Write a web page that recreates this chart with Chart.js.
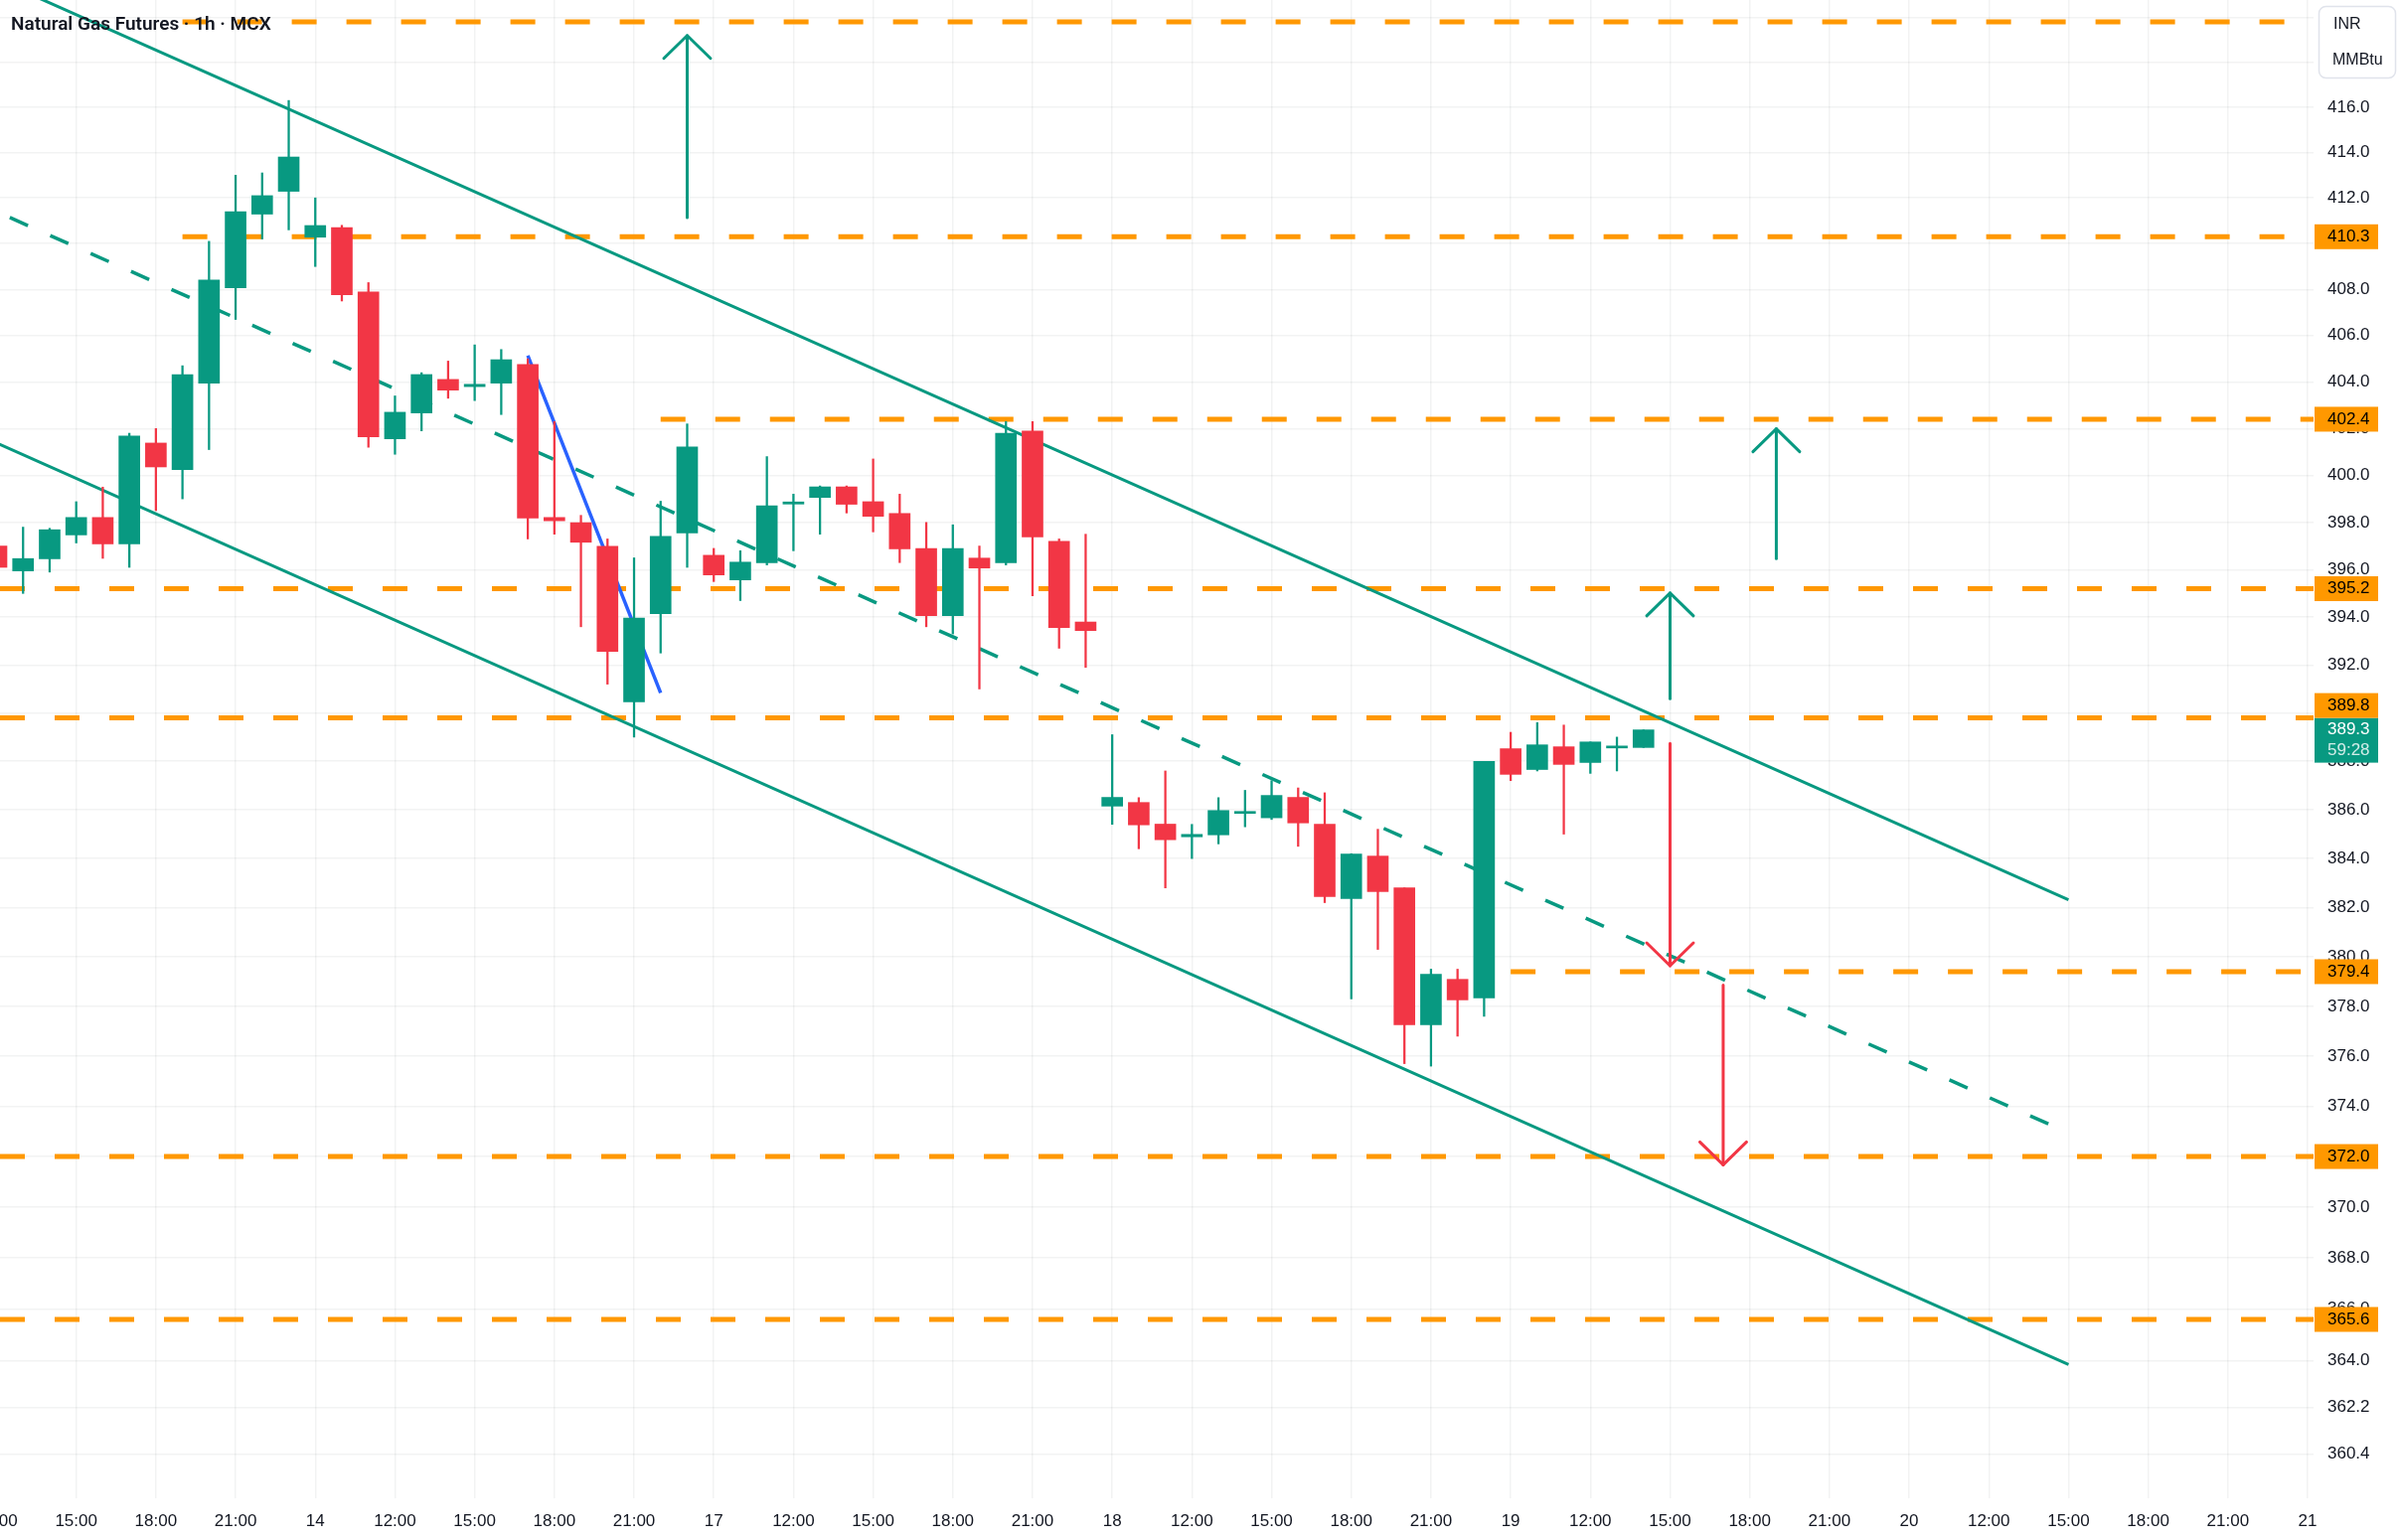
<!DOCTYPE html>
<html>
<head>
<meta charset="utf-8">
<title>Natural Gas Futures 1h</title>
<script src="https://cdn.jsdelivr.net/npm/chart.js@4.4.1/dist/chart.umd.min.js"></script>
<style>
  html, body { margin: 0; padding: 0; background: #ffffff; overflow: hidden; }
  #chart { display: block; }
</style>
</head>
<body>
<canvas id="chart" width="2416" height="1550"></canvas>
<script>
const TITLE = "Natural Gas Futures · 1h · MCX";

// hourly candles, bar 0 = 12:00 on the 13th
const OPEN = [
  397.0, 395.95, 396.46, 397.47, 398.21, 397.09, 401.38, 400.25, 403.95, 408.07,
  411.29, 412.29, 410.28, 410.7, 407.89, 401.56, 402.67, 404.11, 403.8, 403.95,
  404.75, 398.21, 397.99, 396.99, 390.46, 394.15, 397.55, 396.61, 395.57, 396.29,
  398.78, 399.06, 399.51, 398.88, 398.38, 396.9, 394.07, 396.49, 396.29, 401.89,
  397.2, 393.8, 386.15, 386.3, 385.41, 384.89, 384.97, 385.85, 385.67, 386.51,
  385.41, 382.37, 384.1, 382.8, 377.26, 379.09, 378.34, 388.52, 387.66, 388.6,
  387.95, 388.55, 388.57,
];
const HIGH = [
  397.3, 397.8, 397.75, 398.88, 399.5, 401.8, 402.0, 404.7, 410.1, 413.0,
  413.1, 416.3, 412.0, 410.8, 408.3, 403.4, 404.4, 404.9, 405.6, 405.4,
  405.0, 402.3, 398.3, 397.3, 396.5, 398.9, 402.2, 396.9, 396.8, 400.8,
  399.2, 399.55, 399.55, 400.7, 399.2, 398.0, 397.9, 397.0, 402.3, 402.3,
  397.3, 397.5, 389.1, 386.5, 387.6, 385.4, 386.5, 386.8, 387.2, 386.9,
  386.7, 384.2, 385.2, 382.8, 379.5, 379.5, 388.0, 389.2, 389.6, 389.5,
  388.8, 389.0, 389.3,
];
const LOW = [
  395.8, 395.0, 395.9, 397.13, 396.48, 396.1, 398.5, 399.0, 401.1, 406.7,
  410.2, 410.6, 409.0, 407.5, 401.2, 400.9, 401.9, 403.3, 403.2, 402.6,
  397.3, 397.5, 393.6, 391.2, 389.0, 392.5, 396.1, 395.5, 394.7, 396.2,
  396.8, 397.5, 398.4, 397.6, 396.3, 393.6, 393.3, 391.0, 396.2, 394.9,
  392.7, 391.9, 385.4, 384.4, 382.8, 384.0, 384.6, 385.3, 385.6, 384.5,
  382.2, 378.3, 380.3, 375.7, 375.6, 376.8, 377.6, 387.2, 387.6, 385.0,
  387.5, 387.6, 388.57,
];
const CLOSE = [
  396.1, 396.47, 397.69, 398.21, 397.09, 401.68, 400.36, 404.32, 408.41, 411.4,
  412.1, 413.8, 410.79, 407.77, 401.65, 402.7, 404.32, 403.65, 403.9, 404.96,
  398.18, 398.07, 397.16, 392.57, 393.97, 397.41, 401.21, 395.78, 396.32, 398.71,
  398.87, 399.51, 398.77, 398.26, 396.88, 394.07, 396.9, 396.07, 401.8, 397.38,
  393.57, 393.44, 386.51, 385.38, 384.77, 384.99, 385.97, 385.9, 386.59, 385.46,
  382.45, 384.18, 382.65, 377.26, 379.3, 378.26, 388.0, 387.46, 388.68, 387.87,
  388.8, 388.62, 389.3,
];
const LAST_PRICE = 389.3;
const COUNTDOWN = "59:28";

// time axis: one tick every 3 bars
const TICK_BARS = [
  0, 3, 6, 9, 12, 15, 18, 21, 24, 27, 30, 33, 36, 39, 42,
  45, 48, 51, 54, 57, 60, 63, 66, 69, 72, 75, 78, 81, 84, 87,
];
const TIME_LABELS = [
  "12:00", "15:00", "18:00", "21:00", "14", "12:00", "15:00", "18:00", "21:00", "17",
  "12:00", "15:00", "18:00", "21:00", "18", "12:00", "15:00", "18:00", "21:00", "19",
  "12:00", "15:00", "18:00", "21:00", "20", "12:00", "15:00", "18:00", "21:00", "21",
];
const PRICE_TICKS = [
  420, 418, 416, 414, 412, 410, 408, 406, 404, 402, 400, 398, 396, 394, 392, 390,
  388, 386, 384, 382, 380, 378, 376, 374, 372, 370, 368, 366, 364, 362.2, 360.4,
];
const X_MIN = 0.131;
const X_MAX = 87.224;
const Y_MIN = 358.7;
const Y_MAX = 420.78;

// horizontal levels (start bar, null = from the left edge)
const LEVELS = [419.8, 410.3, 402.4, 395.2, 389.8, 379.4, 372.0, 365.6];
const LEVEL_START = [7, 7, 25, null, null, 57, null, null];
const LEVEL_TAGGED = [false, true, true, true, true, true, true, true];

// descending channel
const CHANNEL_X = [0, 78];
const CHANNEL_UPPER = [421.71, 382.32];
const CHANNEL_LOWER = [401.38, 363.85];
const MIDLINE_X = [0.5, 78];
const MIDLINE = [411.14, 372.94];

const BLUE_X = [20, 25];
const BLUE_Y = [405.14, 390.84];

// arrows: bar, from price, to price
const ARROW_X = [26, 67, 63, 63, 65];
const ARROW_FROM = [411.14, 396.47, 390.59, 388.74, 378.86];
const ARROW_TO = [419.19, 401.99, 395.02, 379.64, 371.67];

const UP = "#089981";
const DOWN = "#F23645";
const ORANGE = "#FF9800";
const BLUE = "#2962FF";
const TEXT = "#131722";
const GRID = "rgba(42, 46, 57, 0.06)";
const FONT = "Liberation Sans";

const candleColors = OPEN.map((o, i) => (CLOSE[i] >= o ? UP : DOWN));

function levelDataset(level, k) {
  const start = LEVEL_START[k] === null ? X_MIN : LEVEL_START[k];
  return {
    type: "line",
    data: [[start, level], [X_MAX + 1, level]],
    borderColor: ORANGE,
    borderWidth: 5,
    borderDash: [25, 30],
    pointRadius: 0,
    order: 5,
  };
}

function arrowDataset(k) {
  return {
    type: "line",
    data: [[ARROW_X[k], ARROW_FROM[k]], [ARROW_X[k], ARROW_TO[k]]],
    borderColor: ARROW_TO[k] > ARROW_FROM[k] ? UP : DOWN,
    borderWidth: 3,
    borderCapStyle: "round",
    pointRadius: 0,
    order: 3,
  };
}

function lineDataset(xs, ys, color, width, dash) {
  return {
    type: "line",
    data: xs.map((x, i) => [x, ys[i]]),
    borderColor: color,
    borderWidth: width,
    borderDash: dash || [],
    pointRadius: 0,
    order: 4,
  };
}

const HEAD_HALF = 23.5;
const HEAD_LEN = 23;

const arrowHeads = {
  id: "arrowHeads",
  afterDatasetsDraw(chart) {
    const { ctx, scales: { x, y } } = chart;
    ctx.save();
    ctx.lineWidth = 3;
    ctx.lineCap = "round";
    ctx.lineJoin = "round";
    ARROW_X.forEach((bar, k) => {
      const px = x.getPixelForValue(bar);
      const tip = y.getPixelForValue(ARROW_TO[k]);
      const up = ARROW_TO[k] > ARROW_FROM[k];
      const wingY = tip + (up ? HEAD_LEN : -HEAD_LEN);
      ctx.strokeStyle = up ? UP : DOWN;
      ctx.beginPath();
      ctx.moveTo(px - HEAD_HALF, wingY);
      ctx.lineTo(px, tip);
      ctx.lineTo(px + HEAD_HALF, wingY);
      ctx.stroke();
    });
    ctx.restore();
  },
};

const decorations = {
  id: "decorations",
  afterDraw(chart) {
    const { ctx, chartArea, scales: { y } } = chart;
    const boxLeft = chartArea.right + 1;
    const boxWidth = 64;
    const textX = chartArea.right + 14;
    ctx.save();

    // title
    ctx.font = `600 19px Roboto`;
    ctx.fillStyle = TEXT;
    ctx.textBaseline = "middle";
    ctx.textAlign = "left";
    ctx.fillText(TITLE, 11, 25);

    // unit box
    ctx.fillStyle = "#ffffff";
    ctx.strokeStyle = "#e0e3eb";
    ctx.lineWidth = 1.5;
    ctx.beginPath();
    ctx.roundRect(chartArea.right + 5.5, 6.5, 77, 72, 7);
    ctx.fill();
    ctx.stroke();
    ctx.fillStyle = TEXT;
    ctx.font = `16px ${FONT}`;
    ctx.fillText("INR", chartArea.right + 20, 25);
    ctx.fillText("MMBtu", chartArea.right + 19, 61);

    // current price tag
    const lastY = y.getPixelForValue(LAST_PRICE);
    const lastTop = lastY - 12;
    const lastBottom = lastTop + 45;
    ctx.fillStyle = UP;
    ctx.fillRect(boxLeft, lastTop, boxWidth, 45);
    ctx.font = `17px ${FONT}`;
    ctx.fillStyle = "#ffffff";
    ctx.fillText(LAST_PRICE.toFixed(1), textX, lastY);
    ctx.fillStyle = "rgba(255, 255, 255, 0.82)";
    ctx.fillText(COUNTDOWN, textX, lastY + 21);

    // level tags
    LEVELS.forEach((level, k) => {
      if (!LEVEL_TAGGED[k]) return;
      let cy = y.getPixelForValue(level);
      if (cy + 12.5 > lastTop && cy - 12.5 < lastBottom) {
        cy = lastTop - 12.5;
      }
      ctx.fillStyle = ORANGE;
      ctx.fillRect(boxLeft, cy - 12.5, boxWidth, 25);
      ctx.fillStyle = "#000000";
      ctx.fillText(level.toFixed(1), textX, cy);
    });
    ctx.restore();
  },
};

const datasets = [
  {
    type: "bar",
    data: OPEN.map((o, i) => ({ x: i, y: [o, CLOSE[i]] })),
    backgroundColor: candleColors,
    barThickness: 21,
    minBarLength: 2,
    grouped: false,
    order: 0,
  },
  {
    type: "bar",
    data: LOW.map((l, i) => ({ x: i, y: [l, HIGH[i]] })),
    backgroundColor: candleColors,
    barThickness: 1.6,
    grouped: false,
    order: 1,
  },
  lineDataset(BLUE_X, BLUE_Y, BLUE, 3.5),
  lineDataset(CHANNEL_X, CHANNEL_UPPER, UP, 3),
  lineDataset(CHANNEL_X, CHANNEL_LOWER, UP, 3),
  lineDataset(MIDLINE_X, MIDLINE, UP, 3.5, [20, 24.5]),
  ...ARROW_X.map((_, k) => arrowDataset(k)),
  ...LEVELS.map(levelDataset),
];

new Chart(document.getElementById("chart"), {
  type: "bar",
  data: { datasets },
  options: {
    responsive: false,
    devicePixelRatio: 1,
    animation: false,
    events: [],
    layout: { padding: 0, autoPadding: false },
    plugins: {
      legend: { display: false },
      tooltip: { enabled: false },
    },
    scales: {
      x: {
        type: "linear",
        min: X_MIN,
        max: X_MAX,
        bounds: "data",
        offset: false,
        afterBuildTicks: (scale) => {
          scale.ticks = TICK_BARS.map((value) => ({ value }));
        },
        afterFit: (scale) => {
          scale.height = 42;
          scale.paddingLeft = 0;
          scale.paddingRight = 0;
        },
        ticks: {
          autoSkip: false,
          maxRotation: 0,
          padding: 13,
          color: TEXT,
          font: { family: FONT, size: 17 },
          callback: (value, index) => TIME_LABELS[index],
        },
        grid: { color: GRID, lineWidth: 1.5, drawTicks: false, offset: false },
        border: { display: false },
      },
      y: {
        type: "logarithmic",
        position: "right",
        min: Y_MIN,
        max: Y_MAX,
        bounds: "data",
        beginAtZero: false,
        afterBuildTicks: (scale) => {
          scale.ticks = PRICE_TICKS.map((value) => ({ value }));
        },
        afterFit: (scale) => {
          scale.width = 88;
          scale.paddingTop = 0;
          scale.paddingBottom = 0;
        },
        ticks: {
          autoSkip: false,
          padding: 14,
          color: TEXT,
          font: { family: FONT, size: 17 },
          callback: (value) => Number(value).toFixed(1),
        },
        grid: { color: GRID, lineWidth: 1.5, drawTicks: false },
        border: { display: false },
      },
    },
  },
  plugins: [arrowHeads, decorations],
});
</script>
</body>
</html>
